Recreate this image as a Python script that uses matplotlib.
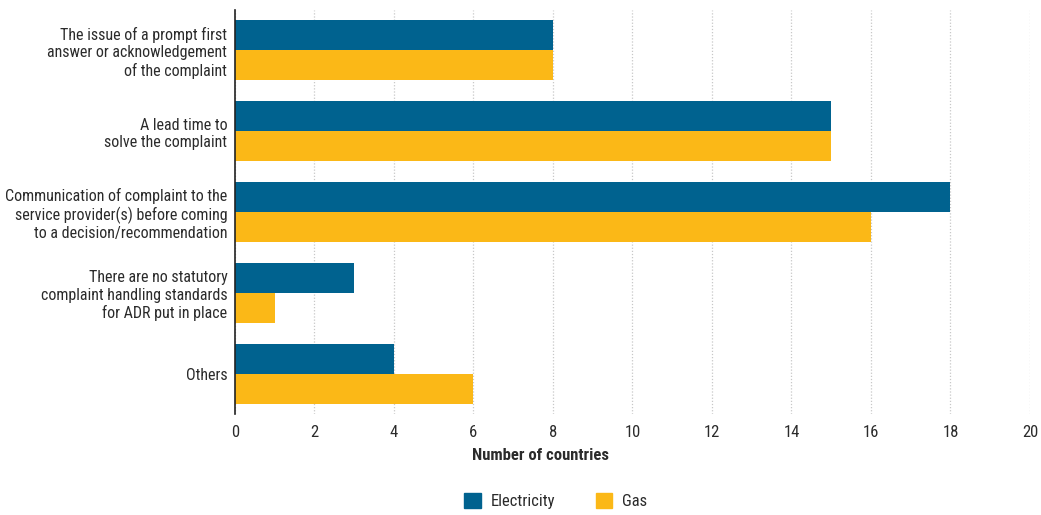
import matplotlib
matplotlib.use("Agg")
import matplotlib.pyplot as plt
import numpy as np
from matplotlib.patches import Patch

plt.rcParams['font.family'] = ['Roboto Condensed', 'DejaVu Sans']

categories = [
    "The issue of a prompt first\nanswer or acknowledgement\nof the complaint",
    "A lead time to\nsolve the complaint",
    "Communication of complaint to the\nservice provider(s) before coming\nto a decision/recommendation",
    "There are no statutory\ncomplaint handling standards\nfor ADR put in place",
    "Others",
]
electricity = [8, 15, 18, 3, 4]
gas = [8, 15, 16, 1, 6]

blue = "#00628f"
gold = "#fbb817"
txt = "#2b2b2b"

fig = plt.figure(figsize=(10.41, 5.15), dpi=100)
ax = fig.add_axes([0.2257, 0.1961, 0.7637, 0.7845])

y = np.arange(len(categories))
h = 0.37
ax.barh(y - h / 2, electricity, height=h, color=blue, label="Electricity", zorder=3)
ax.barh(y + h / 2, gas, height=h, color=gold, label="Gas", zorder=3)

ax.set_ylim(4.494, -0.494)
ax.set_xlim(0, 20)
ax.set_xticks(range(0, 21, 2))
ax.set_yticks(y)
ax.set_yticklabels(categories, fontsize=11.5, color=txt, linespacing=1.2)
ax.tick_params(axis='x', labelsize=12, colors=txt, length=0, pad=8)
ax.tick_params(axis='y', length=0, pad=5.5)
ax.grid(axis='x', color='#c8c8c8', linestyle=(0, (1, 1.5)), linewidth=0.9, zorder=0)
for s in ['top', 'right', 'bottom']:
    ax.spines[s].set_visible(False)
ax.spines['left'].set_color('#222222')
ax.spines['left'].set_linewidth(1.2)
ax.spines['left'].set_zorder(4)

ax.set_xlabel("Number of countries", fontsize=12, fontweight='bold', color=txt)
ax.xaxis.set_label_coords(0.384, -0.083)

handles = [Patch(color=blue, label="Electricity"), Patch(color=gold, label="Gas")]
fig.legend(handles=handles, loc='center', bbox_to_anchor=(0.534, 0.027), ncol=2,
           frameon=False, fontsize=12, handlelength=1.0, handleheight=1.0,
           columnspacing=2.4, handletextpad=0.6, labelcolor=txt)

fig.savefig("out.png", dpi=100)
